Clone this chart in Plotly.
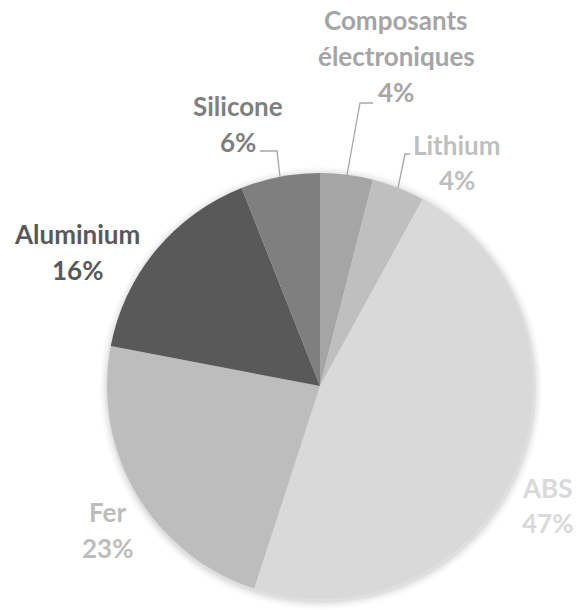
import plotly.graph_objects as go

# ---- data ----
categories = ["Composants électroniques", "Lithium", "ABS", "Fer", "Aluminium", "Silicone"]
label_lines = [["Composants", "électroniques"], ["Lithium"], ["ABS"], ["Fer"], ["Aluminium"], ["Silicone"]]
values = [4, 4, 47, 23, 16, 6]
colors = ["#a5a5a5", "#bfbfbf", "#d9d9d9", "#bdbdbd", "#595959", "#7f7f7f"]

W, H = 576, 610
CX, CY, R = 320, 386, 213


def px(x):
    return x / W


def py(y):
    return 1 - y / H


fig = go.Figure()
fig.add_trace(go.Pie(
    labels=categories,
    values=values,
    sort=False,
    direction="clockwise",
    rotation=0,
    textinfo="none",
    hoverinfo="label+percent",
    marker=dict(colors=colors, line=dict(width=0)),
    domain=dict(x=[px(CX - R), px(CX + R)], y=[py(CY + R), py(CY - R)]),
    showlegend=False,
))

# label placement (text styling / position only)
label_pos = [(396, 20, 36), (457, 145, 35), (547, 488, 35), (107, 512, 36), (77, 234, 36), (238, 106, 36)]
font_family = "Lato, 'Open Sans', sans-serif"
annotations = []
for lines, v, col, (x, y0, pitch) in zip(label_lines, values, colors, label_pos):
    all_lines = lines + [f"{v}%"]
    for i, t in enumerate(all_lines):
        annotations.append(dict(
            x=px(x), y=py(y0 + i * pitch), xref="paper", yref="paper",
            text=f"<b>{t}</b>", showarrow=False, xanchor="center", yanchor="middle",
            font=dict(family=font_family, size=26, color=col),
        ))

# leader lines
leaders = [
    [(347, 175), (360, 103), (373, 103)],
    [(398, 188), (405, 154), (410, 154)],
    [(280, 177), (277, 151), (260, 151)],
]
shapes = []
for pts in leaders:
    path = "M " + " L ".join(f"{px(x)},{py(y)}" for x, y in pts)
    shapes.append(dict(type="path", xref="paper", yref="paper", path=path,
                       line=dict(color="#a6a6a6", width=1.3)))

# soft shadow around pie
for k, a in [(8, 0.02), (6, 0.025), (4, 0.035), (2, 0.05)]:
    r = R + k
    shapes.append(dict(type="circle", xref="paper", yref="paper", layer="below",
                       x0=px(CX - r + 1), x1=px(CX + r + 1), y0=py(CY + r + 2), y1=py(CY - r + 2),
                       fillcolor=f"rgba(0,0,0,{a})", line=dict(width=0)))

fig.update_layout(
    width=W, height=H,
    margin=dict(l=0, r=0, t=0, b=0),
    paper_bgcolor="white", plot_bgcolor="white",
    annotations=annotations,
    shapes=shapes,
)

fig.write_html("out.html", config={"displayModeBar": False},
               post_script="document.body.style.margin='0px';document.body.style.overflow='hidden';")
